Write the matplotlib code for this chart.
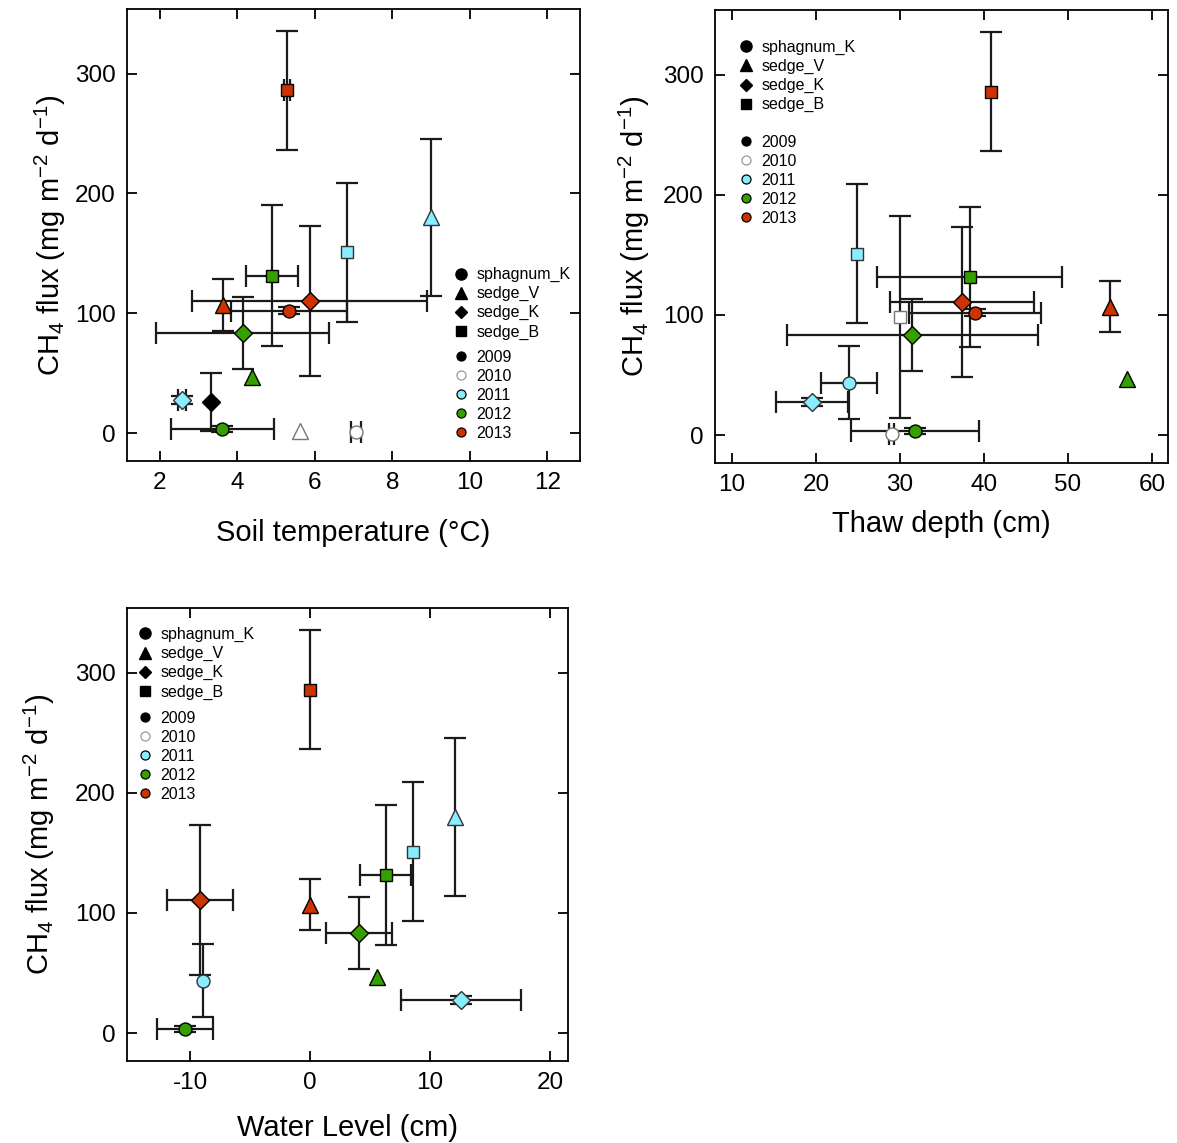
import numpy as np
import matplotlib
matplotlib.use("Agg")
import matplotlib.pyplot as plt
from matplotlib.lines import Line2D

plt.rcParams['font.family'] = ['Liberation Sans', 'DejaVu Sans']
plt.rcParams['mathtext.fontset'] = 'custom'
plt.rcParams['mathtext.rm'] = 'Liberation Sans'
plt.rcParams['mathtext.it'] = 'Liberation Sans:italic'
plt.rcParams['mathtext.bf'] = 'Liberation Sans:bold'
plt.rcParams['axes.unicode_minus'] = False

# ---- data ----
species = ['sedge_B', 'sedge_V', 'sedge_B', 'sedge_B', 'sedge_K', 'sedge_V', 'sphagnum_K', 'sedge_K',
           'sedge_V', 'sphagnum_K', 'sedge_K', 'sedge_K', 'sphagnum_K', 'sphagnum_K', 'sedge_V', 'sedge_B']
years = [2013, 2011, 2011, 2012, 2013, 2013, 2013, 2012,
         2012, 2011, 2011, 2009, 2012, 2010, 2010, 2010]
flux = [286, 180, 151, 131.5, 110.5, 107, 102, 83.5, 47, 43.5, 27.5, 26, 3, 1, 2, 98.5]
flux_err = [49.5, 65.5, 58, 58.5, 62.5, 21.5, 3, 30, 0, 30.5, 3.5, 24, 2.5, 0, 0, 84]

nan = np.nan
soil_temp = [5.28, 9.0, 6.82, 4.88, 5.86, 3.63, 5.33, 4.14, 4.37, nan, 2.56, 3.31, 3.61, 7.06, 5.61, nan]
soil_temp_err = [0.08, 0, 0, 0.67, 3.02, 0, 1.5, 2.23, 0, 0, 0.1, 0, 1.33, 0.12, 0, 0]
thaw = [40.8, nan, 24.9, 38.3, 37.4, 55.0, 38.95, 31.45, 57.0, 23.93, 19.5, nan, 31.8, 29.0, nan, 30.0]
thaw_err = [0, 0, 0, 11, 8.6, 0, 7.85, 14.95, 0, 3.37, 4.27, 0, 7.6, 0.3, 0, 0]
water = [0.0, 12.08, 8.55, 6.3, -9.17, 0.0, nan, 4.05, 5.55, -8.94, 12.55, nan, -10.44, nan, nan, nan]
water_err = [0, 0, 0, 2.1, 2.75, 0, 0, 2.75, 0, 0, 5.0, 0, 2.33, 0, 0, 0]

species_names = ['sphagnum_K', 'sedge_V', 'sedge_K', 'sedge_B']
year_list = [2009, 2010, 2011, 2012, 2013]

# ---- styles ----
markers = {'sphagnum_K': 'o', 'sedge_V': '^', 'sedge_K': 'D', 'sedge_B': 's'}
msizes = {'sphagnum_K': 9.3, 'sedge_V': 11, 'sedge_K': 9, 'sedge_B': 8.5}
colors = {2009: '#000000', 2010: '#FFFFFF', 2011: '#88EEFF', 2012: '#33A000', 2013: '#CC3300'}
edges = {2009: '#000000', 2010: '#777777', 2011: '#333333', 2012: '#000000', 2013: '#000000'}
ecol = '#1a1a1a'

fig = plt.figure(figsize=(11.77, 11.43), dpi=100)
ax1 = fig.add_axes([127/1177, 1-461/1143, 453/1177, 452/1143])
ax2 = fig.add_axes([715/1177, 1-463/1143, 453/1177, 453/1143])
ax3 = fig.add_axes([127/1177, 1-1061/1143, 441/1177, 453/1143])


def draw(ax, xs, xerrs):
    for i in range(len(flux)):
        if np.isnan(xs[i]):
            continue
        xe = xerrs[i] if xerrs[i] > 0 else None
        ye = flux_err[i] if flux_err[i] > 0 else None
        if xe is not None or ye is not None:
            ax.errorbar(xs[i], flux[i], xerr=xe, yerr=ye, fmt='none', ecolor=ecol,
                        elinewidth=1.6, capsize=8, capthick=1.6, zorder=2)
    for i in range(len(flux)):
        if np.isnan(xs[i]):
            continue
        sp = species[i]
        yr = years[i]
        ax.plot(xs[i], flux[i], linestyle='none', marker=markers[sp], markersize=msizes[sp],
                markerfacecolor=colors[yr], markeredgecolor=edges[yr], markeredgewidth=1.0, zorder=3)


def style(ax, ylabelpad):
    ax.set_ylim(-23.3, 354)
    ax.set_yticks([0, 100, 200, 300])
    ax.tick_params(direction='in', top=True, right=True, length=7, width=1.3,
                   labelsize=17.5, pad=8)
    for s in ax.spines.values():
        s.set_linewidth(1.3)
    ax.set_ylabel('CH$_4$ flux (mg m$^{-2}$ d$^{-1}$)', fontsize=21, labelpad=ylabelpad)


def legends(ax, x0, y1, y2):
    h1 = [Line2D([], [], linestyle='none', marker=markers[s], color='black',
                 markersize={'o': 8, '^': 9, 'D': 6.5, 's': 7}[markers[s]]) for s in species_names]
    h2 = [Line2D([], [], linestyle='none', marker='o', markerfacecolor=colors[y],
                 markeredgecolor=('#999999' if y == 2010 else '#000000'), markersize=6.5,
                 markeredgewidth=0.9) for y in year_list]
    kw = dict(frameon=False, loc='upper left', borderaxespad=0, borderpad=0,
              handlelength=1.0, handletextpad=0.45, labelspacing=0.25, fontsize=11.5)
    l1 = ax.legend(h1, species_names, bbox_to_anchor=(x0, y1), **kw)
    ax.add_artist(l1)
    ax.legend(h2, [str(y) for y in year_list], bbox_to_anchor=(x0, y2), **kw)


draw(ax1, soil_temp, soil_temp_err)
style(ax1, 5)
ax1.set_xlim(1.15, 12.84)
ax1.set_xticks([2, 4, 6, 8, 10, 12])
ax1.set_xlabel('Soil temperature (°C)', fontsize=21, labelpad=18)
legends(ax1, 0.7196, 0.429, 0.246)

draw(ax2, thaw, thaw_err)
style(ax2, 8)
ax2.set_xlim(7.98, 61.9)
ax2.set_xticks([10, 20, 30, 40, 50, 60])
ax2.set_xlabel('Thaw depth (cm)', fontsize=21, labelpad=10)
legends(ax2, 0.0508, 0.934, 0.724)

draw(ax3, water, water_err)
style(ax3, 13)
ax3.set_xlim(-15.25, 21.5)
ax3.set_xticks([-10, 0, 10, 20])
ax3.set_xlabel('Water Level (cm)', fontsize=21, labelpad=14)
legends(ax3, 0.0227, 0.958, 0.773)

fig.savefig('out.png', dpi=100)
